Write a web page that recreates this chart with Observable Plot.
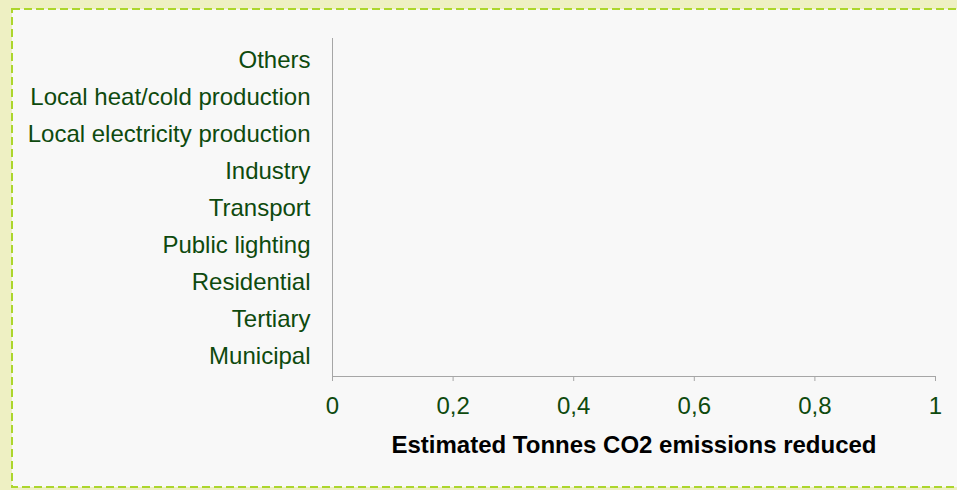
<!DOCTYPE html>
<html>
<head>
<meta charset="utf-8">
<script src="https://cdn.jsdelivr.net/npm/d3@7"></script>
<script src="https://cdn.jsdelivr.net/npm/@observablehq/plot@0.6"></script>
<style>
  html, body { margin: 0; padding: 0; }
  body { width: 957px; height: 490px; background: #EEF0C3; position: relative; overflow: hidden; font-family: "Liberation Sans", Arial, sans-serif; }
  #box { position: absolute; left: 0; top: 0; }
  #chart { position: absolute; left: 0; top: 0; }
</style>
</head>
<body>
<svg id="box" width="957" height="490">
  <rect x="12" y="9" width="1000" height="478" fill="#F8F8F8" stroke="#ACD62C" stroke-width="2" stroke-dasharray="8 4"></rect>
</svg>
<div id="chart"></div>
<script>
const categories = ["Others", "Local heat/cold production", "Local electricity production", "Industry", "Transport", "Public lighting", "Residential", "Tertiary", "Municipal"];
const values = [0, 0, 0, 0, 0, 0, 0, 0, 0];
const xTicks = [0, 0.2, 0.4, 0.6, 0.8, 1];
const xTitle = "Estimated Tonnes CO2 emissions reduced";

const data = categories.map((c, i) => ({category: c, value: values[i]}));
const green = "#0E4A0E";
const axisGray = "#A6A6A6";

const chart = Plot.plot({
  width: 957,
  height: 490,
  marginLeft: 332,
  marginRight: 22,
  marginTop: 38,
  marginBottom: 114,
  style: {background: "transparent", fontFamily: "'Liberation Sans', Arial, sans-serif", fontSize: "24px", overflow: "visible"},
  x: {domain: [0, 1]},
  y: {domain: categories, padding: 0},
  marks: [
    Plot.barX(data, {x: "value", y: "category", fill: "#4F81BD", inset: 6}),
    Plot.frame({anchor: "bottom", stroke: axisGray, strokeOpacity: 1}),
    Plot.ruleX([0], {stroke: axisGray, strokeOpacity: 1}),
    Plot.axisX({ticks: xTicks, tickFormat: d => String(d).replace(".", ","), tickSize: 5, tickPadding: 15, stroke: axisGray, strokeOpacity: 1, fill: green, fontSize: 24, label: null}),
    Plot.axisY({tickSize: 0, tickPadding: 22, fill: green, fontSize: 24, label: null}),
    Plot.text([xTitle], {frameAnchor: "bottom", lineAnchor: "middle", dy: 69, fontWeight: "bold", fontSize: 24, fill: "#000"})
  ]
});
document.getElementById("chart").appendChild(chart);
</script>
</body>
</html>
